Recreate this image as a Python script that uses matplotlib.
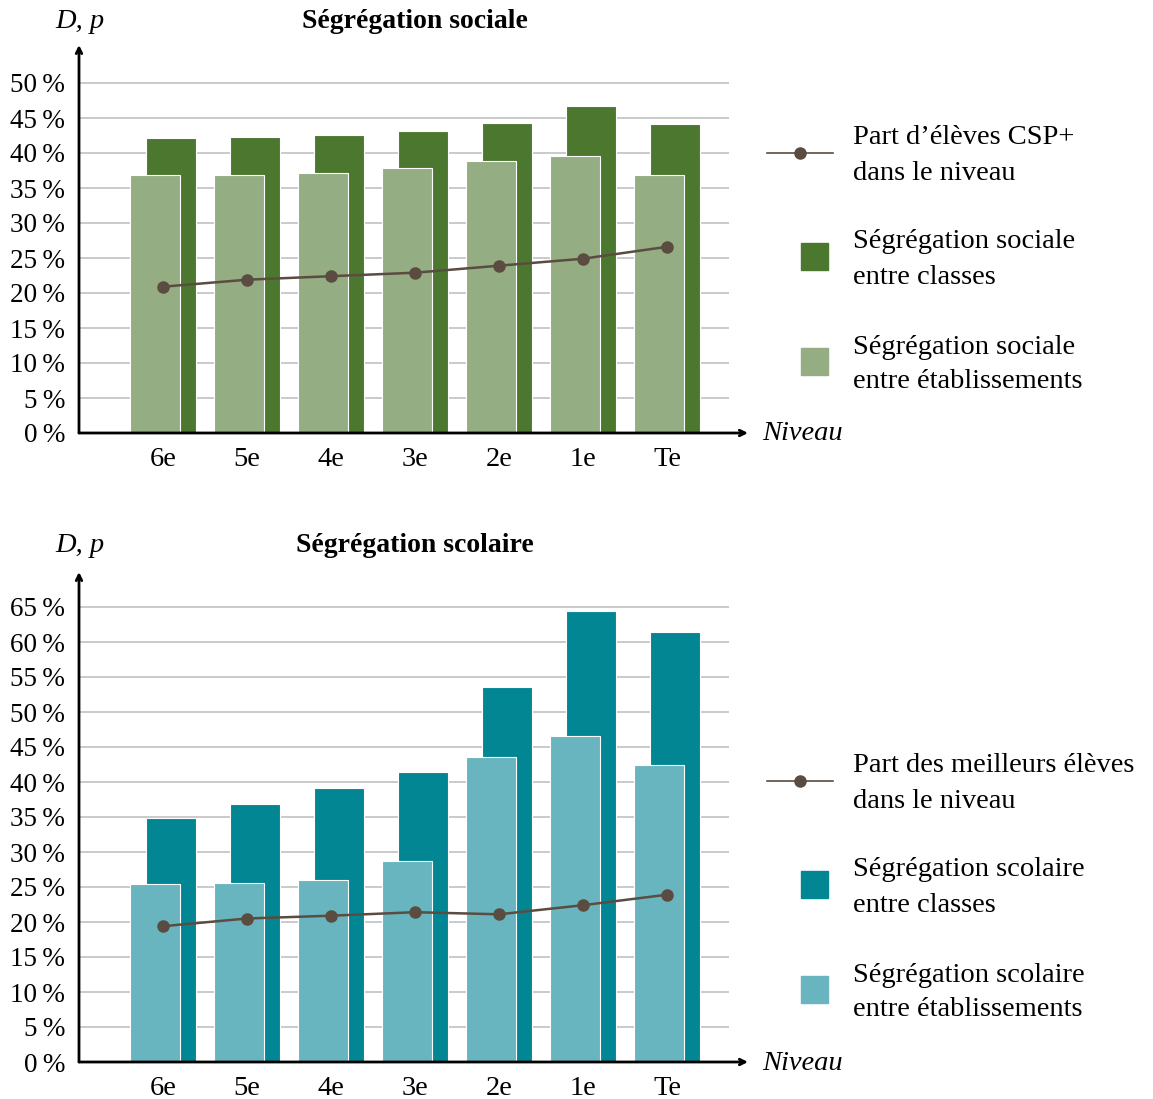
import numpy as np
import matplotlib
matplotlib.use("Agg")
import matplotlib.pyplot as plt
from matplotlib.patches import Rectangle
from matplotlib.lines import Line2D

# --------------------------------------------------------------------------------
# Data
# --------------------------------------------------------------------------------

niveaux = ["6e", "5e", "4e", "3e", "2e", "1e", "Te"]

soc_classes = [42.1, 42.3, 42.6, 43.2, 44.3, 46.7, 44.2]
soc_etab = [36.8, 36.9, 37.1, 37.9, 38.9, 39.6, 36.9]
part_csp = [20.9, 21.9, 22.4, 22.9, 23.9, 24.9, 26.6]

sco_classes = [34.9, 36.8, 39.1, 41.4, 53.6, 64.5, 61.4]
sco_etab = [25.5, 25.6, 26.0, 28.7, 43.6, 46.6, 42.4]
part_meilleurs = [19.4, 20.5, 20.9, 21.4, 21.1, 22.4, 23.9]

ticks_soc = list(range(0, 51, 5))
ticks_sco = list(range(0, 66, 5))

# --------------------------------------------------------------------------------
# Style
# --------------------------------------------------------------------------------

plt.rcParams['font.family'] = ['Liberation Serif', 'DejaVu Serif']
FS = 19.5       # ticks
FS_LEG = 20.5   # legend / axis names
FS_TITLE = 20

W, H = 1153, 1099
fig = plt.figure(figsize=(W / 100, H / 100), dpi=100)

# overlay in pixel coordinates for titles and legends
over = fig.add_axes([0, 0, 1, 1])
over.set_xlim(0, W)
over.set_ylim(H, 0)
over.axis("off")

def px_axes(left, right, y0, ytop):
    return fig.add_axes([left / W, (H - y0) / H, (right - left) / W, (y0 - ytop) / H])


def draw_panel(ax, classes, etab, part, ticks, ymax, c_dark, c_light):
    x = np.arange(len(niveaux))
    ax.set_xlim(-1, 6.964)
    ax.set_ylim(0, ymax)

    for t in ticks[1:]:
        ax.plot([-1, 6.726], [t, t], color="#cacaca", lw=1.4, zorder=1)

    ax.bar(x + 0.1, classes, width=0.595, color=c_dark, edgecolor="white", linewidth=0.8, zorder=2)
    ax.bar(x - 0.1, etab, width=0.595, color=c_light, edgecolor="white", linewidth=0.8, zorder=3)
    ax.plot(x, part, color="#5b4c41", lw=1.8, marker="o", ms=8, zorder=4)

    for s in ax.spines.values():
        s.set_visible(False)
    ax.set_xticks(x)
    ax.set_xticklabels(niveaux, fontsize=FS + 1)
    ax.set_yticks(ticks)
    ax.set_yticklabels([f"{t}\u2009%" for t in ticks], fontsize=FS)
    ax.tick_params(axis="both", length=0)
    ax.tick_params(axis="y", pad=10)
    ax.tick_params(axis="x", pad=10)

    # axes with arrows
    ax.annotate("", xy=(6.964, 0), xytext=(-1, 0), xycoords="data",
                arrowprops=dict(arrowstyle="->", lw=2, color="black", shrinkA=0, shrinkB=0),
                annotation_clip=False, zorder=5)
    ax.annotate("", xy=(-1, ymax), xytext=(-1, 0), xycoords="data",
                arrowprops=dict(arrowstyle="->", lw=2, color="black", shrinkA=0, shrinkB=0),
                annotation_clip=False, zorder=5)


def draw_legend(y_line, lines, c_dark, c_light):
    over.add_line(Line2D([767, 833], [y_line, y_line], color="#5b4c41", lw=1.2))
    over.plot([800], [y_line], "o", color="#5b4c41", ms=8)
    over.add_patch(Rectangle((801, y_line + 90), 27, 27, color=c_dark))
    over.add_patch(Rectangle((801, y_line + 195), 27, 27, color=c_light))
    ys = [y_line - 15, y_line + 89, y_line + 194]
    for y, (l1, l2) in zip(ys, lines):
        over.text(853, y, l1, fontsize=FS_LEG, va="center", ha="left")
        over.text(853, y + 35, l2, fontsize=FS_LEG, va="center", ha="left")


# --------------------------------------------------------------------------------
# Top panel - Ségrégation sociale
# --------------------------------------------------------------------------------

ax1 = px_axes(79, 748, 433, 45)
draw_panel(ax1, soc_classes, soc_etab, part_csp, ticks_soc, 388 / 7, "#4c772f", "#94ad83")

over.text(80, 22, "D, p", fontsize=FS_LEG, style="italic", ha="center", va="center")
over.text(415, 21, "Ségrégation sociale", fontsize=FS_TITLE, weight="bold", ha="center", va="center")
over.text(762, 434, "Niveau", fontsize=FS_LEG, style="italic", ha="left", va="center")

draw_legend(153, [("Part d\u2019élèves CSP+", "dans le niveau"),
                  ("Ségrégation sociale", "entre classes"),
                  ("Ségrégation sociale", "entre établissements")],
            "#4c772f", "#94ad83")

# --------------------------------------------------------------------------------
# Bottom panel - Ségrégation scolaire
# --------------------------------------------------------------------------------

ax2 = px_axes(79, 748, 1062, 572)
draw_panel(ax2, sco_classes, sco_etab, part_meilleurs, ticks_sco, 490 / 7, "#038694", "#68b5bf")

over.text(80, 546, "D, p", fontsize=FS_LEG, style="italic", ha="center", va="center")
over.text(415, 545, "Ségrégation scolaire", fontsize=FS_TITLE, weight="bold", ha="center", va="center")
over.text(762, 1063, "Niveau", fontsize=FS_LEG, style="italic", ha="left", va="center")

draw_legend(781, [("Part des meilleurs élèves", "dans le niveau"),
                  ("Ségrégation scolaire", "entre classes"),
                  ("Ségrégation scolaire", "entre établissements")],
            "#038694", "#68b5bf")

plt.savefig("out.png", dpi=100)
